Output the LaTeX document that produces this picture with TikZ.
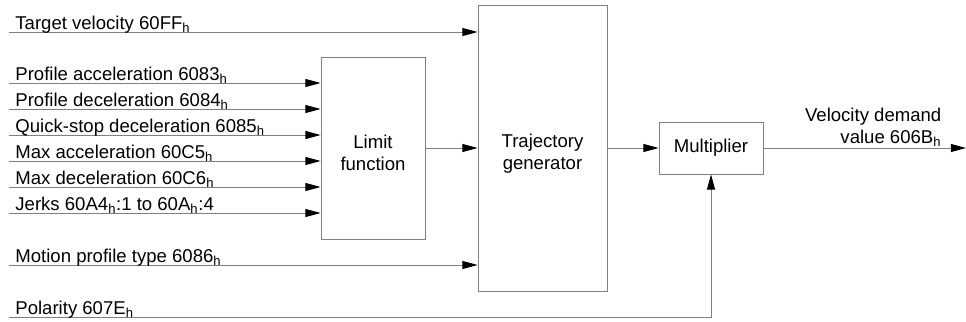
\documentclass[tikz,border=0pt]{standalone}
\usepackage{fontspec}
\setmainfont{Liberation Sans}
\usetikzlibrary{arrows.meta,positioning}

\begin{document}
\begin{tikzpicture}[node distance=4.225cm,on grid,
		every node/.style={font=\fontsize{13.2}{15.6}\selectfont},
		block/.style={draw=gray,line width=0.6pt,inner sep=0pt,align=center},
		sig/.style={draw=gray,line width=0.6pt,-{Triangle[length=0.38cm,width=0.2cm,black]}},
		lbl/.style={anchor=base west,inner sep=0pt,xshift=0.15cm,yshift=0.075cm}]
			\useasboundingbox (0,0) rectangle (24.15,-8.05);
			\node[block,minimum width=2.6cm,minimum height=4.55cm,text height=1.15cm] (limit) at (9.325,-3.7) {Limit\\function};
			\node[block,minimum width=3.225cm,minimum height=7.15cm,text height=1.19cm] (traj) [right=4.2375cm of limit] {Trajectory\\generator};
			\node[block,minimum width=2.6cm,minimum height=1.3cm] (mult) [right=4.2125cm of traj] {Multiplier};
			% free ends of the input and output lines
			\coordinate (vel) at (0.225,-0.8);
			\coordinate (acc) at (0.225,-2.075);
			\coordinate (dec) at (0.225,-2.725);
			\coordinate (qsd) at (0.225,-3.375);
			\coordinate (macc) at (0.225,-4.025);
			\coordinate (mdec) at (0.225,-4.675);
			\coordinate (jerk) at (0.225,-5.325);
			\coordinate (mpt) at (0.225,-6.625);
			\coordinate (pol) at (0.225,-7.925);
			\coordinate (out) at (24.15,-3.7);
			\path[every edge/.style={sig}]
			(vel) edge node[lbl,pos=0] {Target velocity 60FF\textsubscript{h}} (vel -| traj.west)
			(acc) edge node[lbl,pos=0] {Profile acceleration 6083\textsubscript{h}} (acc -| limit.west)
			(dec) edge node[lbl,pos=0] {Profile deceleration 6084\textsubscript{h}} (dec -| limit.west)
			(qsd) edge node[lbl,pos=0] {Quick-stop deceleration 6085\textsubscript{h}} (qsd -| limit.west)
			(macc) edge node[lbl,pos=0] {Max acceleration 60C5\textsubscript{h}} (macc -| limit.west)
			(mdec) edge node[lbl,pos=0] {Max deceleration 60C6\textsubscript{h}} (mdec -| limit.west)
			(jerk) edge node[lbl,pos=0] {Jerks 60A4\textsubscript{h}:1 to 60A\textsubscript{h}:4} (jerk -| limit.west)
			(mpt) edge node[lbl,pos=0] {Motion profile type 6086\textsubscript{h}} (mpt -| traj.west)
			(limit) edge (traj)
			(traj) edge (mult)
			(mult) edge node[anchor=base east,align=right,inner sep=0pt,pos=0.88,yshift=0.125cm] {Velocity demand\\value 606B\textsubscript{h}} (out);
			\draw[sig] (pol) node[lbl] {Polarity 607E\textsubscript{h}} -| (mult.south);
		\end{tikzpicture}
\end{document}
